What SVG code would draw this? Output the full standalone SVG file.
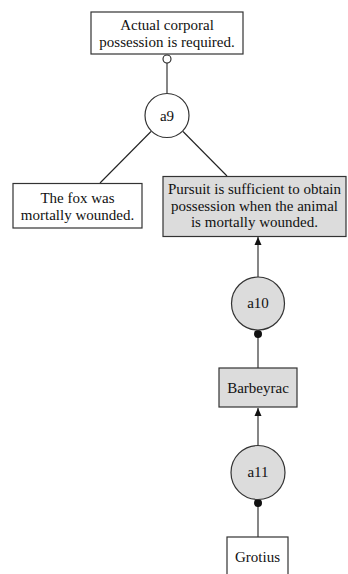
<svg xmlns="http://www.w3.org/2000/svg" width="348" height="574" viewBox="0 0 348 574">
<defs>
<style>
.box{stroke:#333;stroke-width:1.2;}
.w{fill:#fff;}
.g{fill:#dcdcdc;}
.edge{stroke:#222;stroke-width:1.1;fill:none;}
text{font-family:"Liberation Serif","Times New Roman",serif;font-size:15px;fill:#111;text-anchor:middle;}
</style>
<marker id="arr" viewBox="0 0 8 12" refX="8" refY="6" markerWidth="8" markerHeight="12" markerUnits="userSpaceOnUse" orient="auto">
<path d="M0,2.5 L8,6 L0,9.5 Z" fill="#111"/>
</marker>
</defs>
<rect width="348" height="574" fill="#fff"/>
<g id="connectors">
<line class="edge" x1="167" y1="63" x2="167" y2="93.5"/>
<circle cx="167" cy="59" r="4" fill="#fff" stroke="#222" stroke-width="1.1"/>
<line class="edge" x1="151" y1="131.5" x2="100" y2="183"/>
<line class="edge" x1="183" y1="131.5" x2="227" y2="176"/>
<line class="edge" x1="258" y1="277" x2="258" y2="237" marker-end="url(#arr)"/>
<line class="edge" x1="258" y1="334" x2="258" y2="368"/>
<circle cx="258" cy="334" r="4" fill="#111"/>
<line class="edge" x1="258" y1="445" x2="258" y2="408" marker-end="url(#arr)"/>
<line class="edge" x1="258" y1="503" x2="258" y2="537"/>
<circle cx="258" cy="503" r="4" fill="#111"/>
</g>
<g id="n-actual">
<rect class="box w" x="91" y="12" width="152" height="42"/>
<text x="167" y="30">Actual corporal</text>
<text x="167" y="47">possession is required.</text>
</g>
<g id="n-a9">
<circle class="box w" cx="167" cy="115.5" r="22"/>
<text x="167" y="120.5">a9</text>
</g>
<g id="n-fox">
<rect class="box w" x="13" y="183.5" width="129" height="44.5"/>
<text x="77.5" y="203">The fox was</text>
<text x="77.5" y="219.5">mortally wounded.</text>
</g>
<g id="n-pursuit">
<rect class="box g" x="163" y="176.5" width="183" height="60"/>
<text x="254.5" y="194">Pursuit is sufficient to obtain</text>
<text x="254.5" y="210.5">possession when the animal</text>
<text x="254.5" y="227">is mortally wounded.</text>
</g>
<g id="n-a10">
<circle class="box g" cx="258" cy="303.5" r="26.5"/>
<text x="258" y="308">a10</text>
</g>
<g id="n-barbeyrac">
<rect class="box g" x="219" y="368" width="78" height="39"/>
<text x="258" y="392.5">Barbeyrac</text>
</g>
<g id="n-a11">
<circle class="box g" cx="258" cy="472.5" r="27"/>
<text x="258" y="477">a11</text>
</g>
<g id="n-grotius">
<rect class="box w" x="227" y="537" width="61" height="45"/>
<text x="257.5" y="562">Grotius</text>
</g>
</svg>
